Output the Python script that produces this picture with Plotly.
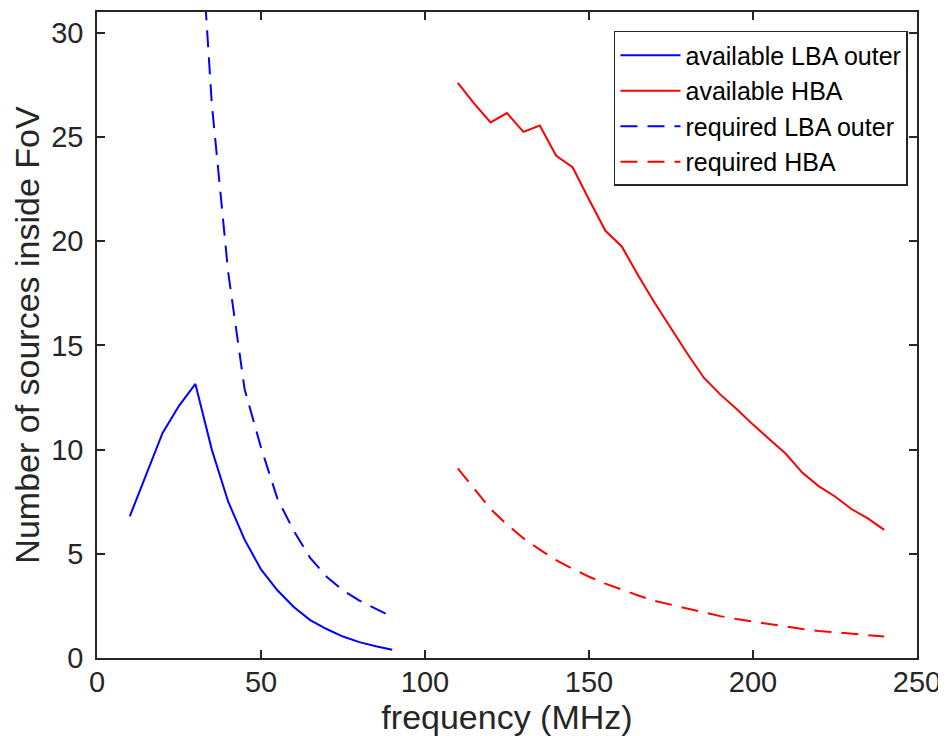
import plotly.graph_objects as go

# available LBA outer (solid blue)
lba_avail_f = [10, 15, 20, 25, 30, 35, 40, 45, 50, 55, 60, 65, 70, 75, 80, 85, 90]
lba_avail_n = [6.8, 8.8, 10.8, 12.1, 13.15, 10.0, 7.5, 5.68, 4.25, 3.25, 2.45, 1.82, 1.39, 1.03, 0.76, 0.56, 0.4]

# required LBA outer (dashed blue)
lba_req_f = [32, 35, 40, 45, 50, 55, 60, 65, 70, 75, 80, 85, 88]
lba_req_n = [34.0, 26.6, 18.5, 12.9, 10.1, 7.65, 6.1, 4.8, 3.9, 3.25, 2.75, 2.35, 2.13]

# available HBA (solid red)
hba_avail_f = [110, 115, 120, 125, 130, 135, 140, 145, 150, 155, 160, 165, 170, 175,
               180, 185, 190, 195, 200, 205, 210, 215, 220, 225, 230, 235, 240]
hba_avail_n = [27.6, 26.6, 25.7, 26.15, 25.25, 25.55, 24.1, 23.55, 22.0, 20.5, 19.75, 18.35, 17.05, 15.8,
               14.6, 13.45, 12.65, 11.95, 11.2, 10.5, 9.8, 8.9, 8.25, 7.75, 7.15, 6.7, 6.15]

# required HBA (dashed red)
hba_req_f = [110, 115, 120, 125, 130, 135, 140, 145, 150, 155, 160, 165, 170, 175,
             180, 185, 190, 195, 200, 205, 210, 215, 220, 225, 230, 235, 240]
hba_req_n = [9.1, 8.1, 7.15, 6.4, 5.75, 5.2, 4.7, 4.28, 3.9, 3.57, 3.28, 3.0, 2.74, 2.56,
             2.35, 2.17, 2.01, 1.87, 1.75, 1.62, 1.5, 1.39, 1.3, 1.23, 1.16, 1.09, 1.03]

x_ticks = [0, 50, 100, 150, 200, 250]
y_ticks = [0, 5, 10, 15, 20, 25, 30]

FONT = "Liberation Sans, Arial, Helvetica, sans-serif"
INK = "#262626"
BLUE = "#0000FF"
RED = "#FF0000"
DASH = "17px,10px"

fig = go.Figure()
fig.add_trace(go.Scatter(x=lba_avail_f, y=lba_avail_n, mode="lines", name="available LBA outer",
                         line=dict(color=BLUE, width=2)))
fig.add_trace(go.Scatter(x=hba_avail_f, y=hba_avail_n, mode="lines", name="available HBA",
                         line=dict(color=RED, width=2)))
fig.add_trace(go.Scatter(x=lba_req_f, y=lba_req_n, mode="lines", name="required LBA outer",
                         line=dict(color=BLUE, width=2, dash=DASH)))
fig.add_trace(go.Scatter(x=hba_req_f, y=hba_req_n, mode="lines", name="required HBA",
                         line=dict(color=RED, width=2, dash=DASH)))

axis_common = dict(
    showline=True, linecolor=INK, linewidth=1.5, mirror="ticks",
    ticks="inside", ticklen=8, tickwidth=1.5, tickcolor=INK,
    showgrid=False, zeroline=False, automargin=False,
    tickfont=dict(family=FONT, size=29, color=INK),
)

# page body has an 8px margin, so the figure is sized/offset to compensate
fig.update_layout(
    width=938, height=728,
    margin=dict(l=89, r=29, t=4, b=78),
    paper_bgcolor="white", plot_bgcolor="white",
    font=dict(family=FONT, color=INK),
    showlegend=True,
    legend=dict(
        x=0.989, y=0.9706, xanchor="right", yanchor="top",
        bgcolor="white", bordercolor=INK, borderwidth=1.5,
        font=dict(family=FONT, size=25, color="black"),
        itemwidth=60, tracegroupgap=0,
    ),
    xaxis=dict(range=[0, 250], tickvals=x_ticks, ticklabelstandoff=-3,
               title=dict(text="frequency (MHz)", font=dict(family=FONT, size=34, color=INK), standoff=12),
               **axis_common),
    yaxis=dict(range=[0, 31], tickvals=y_ticks, ticklabelstandoff=6,
               title=dict(text="Number of sources inside FoV", font=dict(family=FONT, size=34, color=INK), standoff=6),
               **axis_common),
)

fig.write_html("out.html")
